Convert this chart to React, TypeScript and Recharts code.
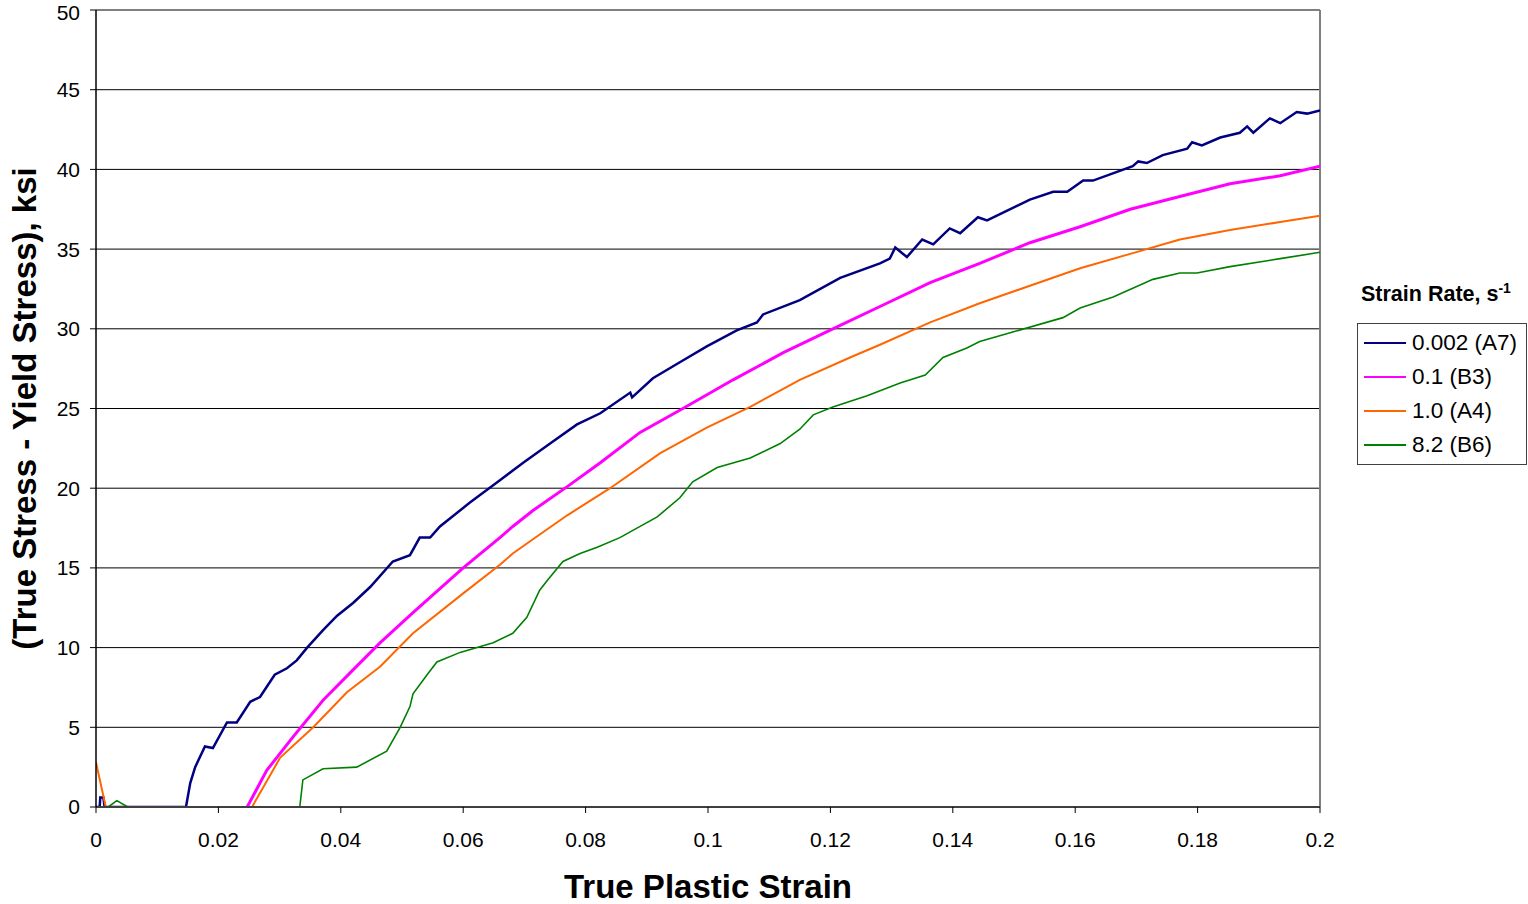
import React from "react";
import { LineChart, Line, XAxis, YAxis, CartesianGrid, ReferenceLine, Label } from "recharts";

const xTicks = [0, 0.02, 0.04, 0.06, 0.08, 0.1, 0.12, 0.14, 0.16, 0.18, 0.2];
const yTicks = [0, 5, 10, 15, 20, 25, 30, 35, 40, 45, 50];

const seriesNames = ["0.002 (A7)", "0.1 (B3)", "1.0 (A4)", "8.2 (B6)"];
const seriesColors = ["#000080", "#FF00FF", "#FF6600", "#008000"];

const rateA7: [number, number][] = [
  [0, 0], [0.0006, 0], [0.0007, 0.6], [0.0012, 0.6], [0.0014, 0], [0.0147, 0],
  [0.0154, 1.5], [0.0162, 2.5], [0.0178, 3.8], [0.0191, 3.7], [0.0214, 5.3], [0.023, 5.3],
  [0.0252, 6.6], [0.0268, 6.9], [0.0292, 8.3], [0.0312, 8.7], [0.0328, 9.2], [0.0345, 10.0],
  [0.0371, 11.1], [0.0394, 12.0], [0.042, 12.8], [0.0448, 13.8], [0.0485, 15.4], [0.0513, 15.8],
  [0.0529, 16.9], [0.0546, 16.9], [0.0562, 17.6], [0.0611, 19.1], [0.066, 20.5], [0.0698, 21.6],
  [0.0742, 22.8], [0.0786, 24.0], [0.0824, 24.7], [0.0873, 26.0], [0.0876, 25.7], [0.091, 26.9],
  [0.0954, 27.9], [0.0998, 28.9], [0.1047, 29.9], [0.108, 30.4], [0.109, 30.9], [0.115, 31.8],
  [0.1216, 33.2], [0.1281, 34.1], [0.1297, 34.4], [0.1306, 35.1], [0.1325, 34.5], [0.135, 35.6],
  [0.1368, 35.3], [0.1395, 36.3], [0.1412, 36.0], [0.1441, 37.0], [0.1456, 36.8], [0.1526, 38.1],
  [0.1564, 38.6], [0.1587, 38.6], [0.1613, 39.3], [0.1629, 39.3], [0.1694, 40.2], [0.1703, 40.5],
  [0.1717, 40.4], [0.1743, 40.9], [0.1783, 41.3], [0.1791, 41.7], [0.1807, 41.5], [0.1837, 42.0],
  [0.1869, 42.3], [0.1881, 42.7], [0.1891, 42.3], [0.1918, 43.2], [0.1935, 42.9], [0.1962, 43.6],
  [0.1979, 43.5], [0.2, 43.7],
];

const rateB3: [number, number][] = [
  [0.0247, 0], [0.0279, 2.3], [0.0322, 4.4], [0.0371, 6.7], [0.042, 8.6], [0.0464, 10.3],
  [0.0518, 12.2], [0.06, 15.0], [0.066, 16.9], [0.0681, 17.6], [0.0714, 18.6], [0.077, 20.1],
  [0.0824, 21.6], [0.0889, 23.5], [0.0959, 25.0], [0.1041, 26.8], [0.1123, 28.5], [0.1204, 30.0],
  [0.1281, 31.4], [0.1363, 32.9], [0.1444, 34.1], [0.1526, 35.4], [0.1608, 36.4], [0.169, 37.5],
  [0.1771, 38.3], [0.1853, 39.1], [0.1935, 39.6], [0.2, 40.2],
];

const rateA4: [number, number][] = [
  [0, 2.8], [0.0016, 0], [0.0255, 0], [0.0301, 3.1], [0.0355, 5.0], [0.041, 7.2],
  [0.0464, 8.8], [0.0518, 10.9], [0.06, 13.4], [0.066, 15.2], [0.0681, 15.9], [0.0714, 16.8],
  [0.077, 18.3], [0.084, 20.0], [0.0922, 22.2], [0.0998, 23.8], [0.1069, 25.1], [0.115, 26.8],
  [0.1232, 28.2], [0.1281, 29.0], [0.1363, 30.4], [0.1444, 31.6], [0.1526, 32.7], [0.1608, 33.8],
  [0.169, 34.7], [0.1771, 35.6], [0.1853, 36.2], [0.1935, 36.7], [0.2, 37.1],
];

const rateB6: [number, number][] = [
  [0, 0], [0.002, 0], [0.0034, 0.4], [0.0052, 0], [0.0333, 0], [0.0338, 1.7],
  [0.0371, 2.4], [0.0426, 2.5], [0.0475, 3.5], [0.0497, 5.0], [0.0513, 6.3], [0.0518, 7.1],
  [0.0541, 8.3], [0.0557, 9.1], [0.0595, 9.7], [0.0649, 10.3], [0.0681, 10.9], [0.0704, 11.9],
  [0.0725, 13.6], [0.0737, 14.2], [0.0763, 15.4], [0.0791, 15.9], [0.0819, 16.3], [0.0856, 16.9],
  [0.0917, 18.2], [0.0954, 19.4], [0.0975, 20.4], [0.1015, 21.3], [0.1069, 21.9], [0.1118, 22.8],
  [0.115, 23.7], [0.1172, 24.6], [0.1204, 25.1], [0.126, 25.8], [0.1314, 26.6], [0.1355, 27.1],
  [0.1384, 28.2], [0.1423, 28.8], [0.1444, 29.2], [0.1498, 29.8], [0.158, 30.7], [0.1608, 31.3],
  [0.1662, 32.0], [0.1727, 33.1], [0.1771, 33.5], [0.1799, 33.5], [0.1853, 33.9], [0.1935, 34.4],
  [0.2, 34.8],
];

const allSeries = [rateA7, rateB3, rateA4, rateB6];
const widths = [2.5, 3, 2, 1.6];

const toRows = (s: [number, number][]) => s.map(([x, y]) => ({ x, y }));

const FONT = "Arial, 'Liberation Sans', Helvetica, sans-serif";

const fmtX = (v: number) => (v === 0 ? "0" : String(Number(v.toFixed(2))));

const LegendBox = () => (
  <div style={{ position: "absolute", left: 1357, top: 280, fontFamily: FONT, color: "#000" }}>
    <div style={{ fontWeight: "bold", fontSize: 21.5, marginLeft: 4, marginBottom: 15, whiteSpace: "nowrap", lineHeight: "28px" }}>
      Strain Rate, s<sup style={{ fontSize: 14, verticalAlign: "top", position: "relative", top: -6 }}>-1</sup>
    </div>
    <div style={{ border: "1px solid #404040", background: "#fff", width: 168, padding: "2px 0 2px 0" }}>
      {seriesNames.map((n, i) => (
        <div key={n} style={{ display: "flex", alignItems: "center", height: 34 }}>
          <div style={{ width: 42, height: 2, background: seriesColors[i], marginLeft: 6, marginRight: 6 }} />
          <span style={{ fontSize: 22.5, whiteSpace: "nowrap" }}>{n}</span>
        </div>
      ))}
    </div>
  </div>
);

const YTitle = (props: any) => {
  const vb = props.viewBox || {};
  const cy = vb.y + vb.height / 2;
  const cx = 24;
  return (
    <text
      x={cx}
      y={cy}
      transform={`rotate(-90, ${cx}, ${cy})`}
      textAnchor="middle"
      dominantBaseline="central"
      fontFamily={FONT}
      fontWeight="bold"
      fontSize={33}
      fill="#000"
    >
      (True Stress - Yield Stress), ksi
    </text>
  );
};

export default function App() {
  return (
    <div style={{ position: "absolute", left: 0, top: 0, width: 1528, height: 904, background: "#fff" }}>
      <LineChart
        width={1528}
        height={904}
        margin={{ top: 10, right: 208, bottom: 7, left: 36 }}
        style={{ fontFamily: FONT }}
      >
        <CartesianGrid horizontal={true} vertical={false} stroke="#000" strokeOpacity={1} />
        <XAxis
          type="number"
          dataKey="x"
          domain={[0, 0.2]}
          ticks={xTicks}
          tickFormatter={fmtX}
          allowDataOverflow
          stroke="#404040"
          strokeWidth={2}
          tickSize={6}
          tickMargin={19}
          height={90}
          tick={{ fill: "#000", fontSize: 21, fontFamily: FONT }}
          tickLine={{ stroke: "#000", strokeWidth: 1 }}
        >
          <Label
            value="True Plastic Strain"
            position="insideBottom"
            offset={-1}
            style={{ fontFamily: FONT, fontWeight: "bold", fontSize: 33, fill: "#000" }}
          />
        </XAxis>
        <YAxis
          type="number"
          dataKey="y"
          domain={[0, 50]}
          ticks={yTicks}
          allowDataOverflow
          stroke="#000"
          strokeWidth={1.5}
          tickSize={6}
          tickMargin={10}
          width={60}
          tick={{ fill: "#000", fontSize: 21, fontFamily: FONT }}
          tickLine={{ stroke: "#000", strokeWidth: 1 }}
          label={<YTitle />}
        />
        <ReferenceLine y={50} stroke="#808080" strokeWidth={2} />
        <ReferenceLine x={0.2} stroke="#808080" strokeWidth={2} />
        {allSeries.map((s, i) => (
          <Line
            key={seriesNames[i]}
            name={seriesNames[i]}
            data={toRows(s)}
            dataKey="y"
            type="linear"
            stroke={seriesColors[i]}
            strokeWidth={widths[i]}
            dot={false}
            activeDot={false}
            isAnimationActive={false}
          />
        ))}
      </LineChart>
      <LegendBox />
    </div>
  );
}
